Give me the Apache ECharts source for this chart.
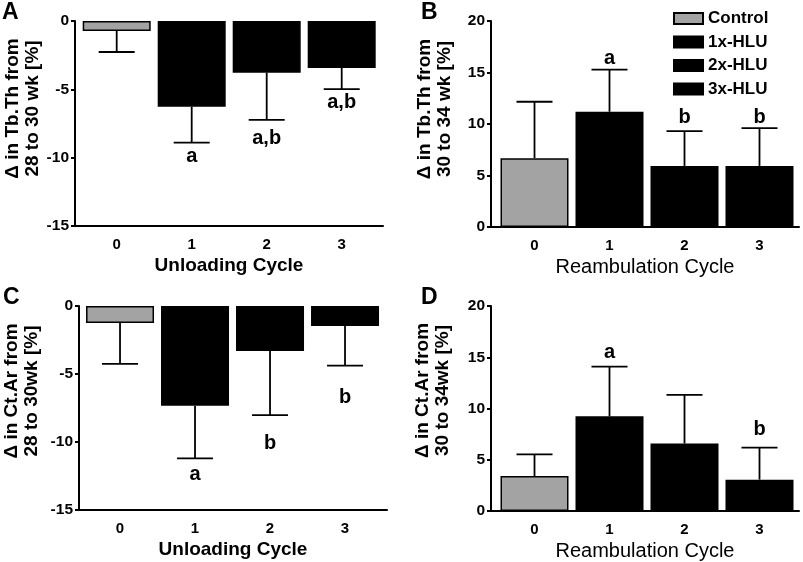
<!DOCTYPE html>
<html>
<head>
<meta charset="utf-8">
<script src="https://cdn.jsdelivr.net/npm/echarts@6/dist/echarts.min.js"></script>
<style>html,body{margin:0;padding:0;background:#fff;}#c{width:803px;height:562px;}</style>
</head>
<body>
<div id="c"></div>
<script>
// ---- data ----
const groups = ['Control', '1x-HLU', '2x-HLU', '3x-HLU'];
const cyclePos = [0, 1, 2, 3];
const tickLabels = ['0', '1', '2', '3'];

// Panel A: Δ Tb.Th 28->30 wk (unloading)
const meanA = [-0.73, -6.27, -3.78, -3.44];
const sdA = [1.54, 2.63, 3.46, 1.54];
const sigA = ['', 'a', 'a,b', 'a,b'];
const sigYA = [null, -9.95, -8.56, -5.93];

// Panel B: Δ Tb.Th 30->34 wk (reambulation)
const meanB = [6.68, 11.19, 5.93, 5.93];
const sdB = [5.48, 4.08, 3.38, 3.67];
const sigB = ['', 'a', 'b', 'b'];
const sigYB = [null, 16.4, 10.6, 10.6];

// Panel C: Δ Ct.Ar 28->30 wk (unloading)
const meanC = [-1.25, -7.34, -3.30, -1.47];
const sdC = [3.01, 3.86, 4.73, 2.91];
const sigC = ['', 'a', 'b', 'b'];
const sigYC = [null, -12.4, -10.1, -6.7];

// Panel D: Δ Ct.Ar 30->34 wk (reambulation)
const meanD = [3.41, 9.24, 6.58, 3.06];
const sdD = [2.12, 4.85, 4.74, 3.13];
const sigD = ['', 'a', '', 'b'];
const sigYD = [null, 15.43, null, 7.97];

const colors = ['#a3a3a3', '#000000', '#000000', '#000000'];
const FONT = '"Liberation Sans", Arial, sans-serif';

const panels = [
  {letter: 'A', mean: meanA, sd: sdA, sig: sigA, sigY: sigYA,
   grid: {left: 75, top: 21, width: 308, height: 205}, xmin: -0.556, ymin: -15, ymax: 0,
   xname: 'Unloading Cycle', xbold: true, yname: 'Δ in Tb.Th from\n28 to 30 wk [%]', ygap: 30, yshift: 15,
   lt: {left: 2, top: 1}},
  {letter: 'B', mean: meanB, sd: sdB, sig: sigB, sigY: sigYB,
   grid: {left: 491, top: 21, width: 308, height: 206}, xmin: -0.58, ymin: 0, ymax: 20,
   xname: 'Reambulation Cycle', xbold: false, yname: 'Δ in Tb.Th from\n30 to 34 wk [%]', ygap: 36, yshift: 15,
   lt: {left: 421, top: 1}},
  {letter: 'C', mean: meanC, sd: sdC, sig: sigC, sigY: sigYC,
   grid: {left: 79, top: 306, width: 308, height: 204}, xmin: -0.547, ymin: -15, ymax: 0,
   xname: 'Unloading Cycle', xbold: true, yname: 'Δ in Ct.Ar from\n28 to 30wk [%]', ygap: 37, yshift: 17,
   lt: {left: 3, top: 286}},
  {letter: 'D', mean: meanD, sd: sdD, sig: sigD, sigY: sigYD,
   grid: {left: 491, top: 306, width: 308, height: 205}, xmin: -0.58, ymin: 0, ymax: 20,
   xname: 'Reambulation Cycle', xbold: false, yname: 'Δ in Ct.Ar from\n30 to 34wk [%]', ygap: 38, yshift: 18,
   lt: {left: 421, top: 286}}
];

const grids = [], xAxes = [], yAxes = [], series = [], titles = [];
const BAND = 75; // px per cycle

panels.forEach((p, i) => {
  grids.push(p.grid);
  xAxes.push({
    type: 'value', gridIndex: i, min: p.xmin, max: p.xmin + p.grid.width / BAND,
    position: 'bottom',
    axisLine: {show: true, onZero: false, lineStyle: {color: '#000', width: 2}},
    axisTick: {show: false},
    splitLine: {show: false},
    axisLabel: {customValues: cyclePos, formatter: v => tickLabels[cyclePos.indexOf(Math.round(v))] ?? '',
      color: '#000', fontWeight: 'bold', fontSize: 15, fontFamily: FONT, margin: 11},
    name: p.xname, nameLocation: 'middle', nameGap: 30,
    nameTextStyle: {color: '#000', fontSize: p.xbold ? 19 : 20, fontWeight: p.xbold ? 'bold' : 'normal', fontFamily: FONT}
  });
  yAxes.push({
    type: 'value', gridIndex: i, min: p.ymin, max: p.ymax, interval: 5,
    position: 'left',
    axisLine: {show: true, onZero: false, lineStyle: {color: '#000', width: 2}},
    axisTick: {show: true, length: 4, lineStyle: {color: '#000', width: 2}},
    splitLine: {show: false},
    axisLabel: {color: '#000', fontWeight: 'bold', fontSize: 15.5, fontFamily: FONT, margin: 6},
    name: p.yname, nameLocation: 'middle', nameGap: p.ygap,
    nameTextStyle: {color: '#000', fontSize: 19, fontWeight: 'bold', fontFamily: FONT, lineHeight: 20,
      padding: [0, 0, 0, p.yshift * 2]}
  });
  titles.push({text: p.letter, left: p.lt.left, top: p.lt.top, padding: 0,
    textStyle: {fontSize: 23, fontWeight: 'bold', color: '#000', fontFamily: FONT}});

  groups.forEach((g, k) => {
    series.push({
      type: 'bar', name: g, xAxisIndex: i, yAxisIndex: i,
      barWidth: 68, barGap: '-100%',
      itemStyle: {color: colors[k], borderColor: '#000', borderWidth: 1.5},
      data: [[cyclePos[k], p.mean[k]]],
      silent: true, z: 2
    });
  });

  series.push({
    type: 'custom', xAxisIndex: i, yAxisIndex: i, z: 5, silent: true,
    data: cyclePos.map((c, k) => [c, p.mean[k], p.sd[k]]),
    renderItem: (params, api) => {
      const x = api.value(0), m = api.value(1), s = api.value(2);
      const end = m < 0 ? m - s : m + s;
      const p0 = api.coord([x, m]);
      const p1 = api.coord([x, end]);
      const hw = 18;
      const st = {stroke: '#000', lineWidth: 1.8};
      return {type: 'group', children: [
        {type: 'line', shape: {x1: p0[0], y1: p0[1], x2: p1[0], y2: p1[1]}, style: st},
        {type: 'line', shape: {x1: p1[0] - hw, y1: p1[1], x2: p1[0] + hw, y2: p1[1]}, style: st}
      ]};
    }
  });

  series.push({
    type: 'scatter', xAxisIndex: i, yAxisIndex: i, symbolSize: 0, silent: true, z: 6,
    itemStyle: {opacity: 1},
    data: cyclePos.map((c, k) => p.sig[k] ? {value: [c, p.sigY[k]], name: p.sig[k]} : null).filter(Boolean),
    label: {show: true, position: 'inside', formatter: d => d.name, opacity: 1,
      color: '#000', fontWeight: 'bold', fontSize: 20, fontFamily: FONT}
  });
});

const chart = echarts.init(document.getElementById('c'), null, {renderer: 'canvas'});
chart.setOption({
  animation: false,
  backgroundColor: '#fff',
  title: titles,
  legend: {
    data: groups, orient: 'vertical', left: 668, top: 5,
    itemWidth: 29, itemHeight: 11, itemGap: 6.5, icon: 'rect',
    selectedMode: false,
    textStyle: {color: '#000', fontWeight: 'bold', fontSize: 17, fontFamily: FONT, padding: [0, 0, 0, 0]}
  },
  grid: grids,
  xAxis: xAxes,
  yAxis: yAxes,
  series: series
});
</script>
</body>
</html>
